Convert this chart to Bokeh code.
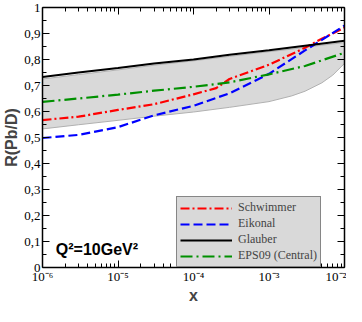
from bokeh.plotting import figure
from bokeh.models import (LinearAxis, LogAxis, FixedTicker, Range1d, Legend, LegendItem)
from bokeh.core.properties import value
from bokeh.embed import file_html
from bokeh.resources import INLINE

# ---- data ----
x_grid = [1e-6, 3e-6, 1e-5, 3e-5, 1e-4, 3e-4, 1e-3, 3e-3, 1e-2]
glauber = [0.733, 0.750, 0.767, 0.785, 0.800, 0.818, 0.836, 0.853, 0.872]
band_x = [1e-6, 3e-6, 1e-5, 3e-5, 1e-4, 3e-4, 1e-3, 2e-3, 3e-3, 5e-3, 7e-3, 1e-2]
band_hi = [0.725, 0.742, 0.760, 0.778, 0.795, 0.812, 0.830, 0.840, 0.847, 0.855, 0.860, 0.865]
band_lo = [0.533, 0.549, 0.566, 0.582, 0.598, 0.616, 0.638, 0.660, 0.678, 0.710, 0.740, 0.785]
eps09 = [0.637, 0.650, 0.665, 0.680, 0.695, 0.712, 0.743, 0.775, 0.826]
schw_x = [1e-6, 3e-6, 1e-5, 3e-5, 1e-4, 2e-4, 3e-4, 1e-3, 3e-3, 5e-3, 1e-2]
schwimmer = [0.567, 0.580, 0.606, 0.628, 0.666, 0.690, 0.725, 0.780, 0.845, 0.880, 0.922]
eikonal = [0.498, 0.510, 0.540, 0.585, 0.622, 0.670, 0.745, 0.835, 0.930]

y_ticks = [0.0, 0.1, 0.2, 0.3, 0.4, 0.5, 0.6, 0.7, 0.8, 0.9, 1.0]
y_labels = ["0", "0,1", "0,2", "0,3", "0,4", "0,5", "0,6", "0,7", "0,8", "0,9", "1"]
x_ticks = [1e-6, 1e-5, 1e-4, 1e-3, 1e-2]
x_labels = ["10\u207b\u2076", "10\u207b\u2075", "10\u207b\u2074", "10\u207b\u00b3", "10\u207b\u00b2"]

SERIF = "Liberation Serif"
SANS = "Liberation Sans"

p = figure(width=346, height=306, x_axis_type="log", output_backend="svg",
           toolbar_location=None, x_range=Range1d(1e-6, 1e-2), y_range=Range1d(0, 1),
           x_axis_location=None, y_axis_location=None)
p.min_border_top = 7
p.min_border_right = 2
p.min_border_left = 0
p.min_border_bottom = 0
p.xgrid.visible = False
p.ygrid.visible = False
p.outline_line_color = None
p.background_fill_color = "white"

x_minor = [m * 10.0 ** e for e in range(-6, -2) for m in range(2, 10)]
y_minor = [round(0.05 + 0.1 * i, 2) for i in range(10)]
xt = FixedTicker(ticks=x_ticks, minor_ticks=x_minor)
yt = FixedTicker(ticks=y_ticks, minor_ticks=y_minor)


def style(ax, labels=True):
    ax.axis_line_color = "black"
    ax.axis_line_width = 1.5
    ax.major_tick_in = 7
    ax.major_tick_out = 0
    ax.minor_tick_in = 4
    ax.minor_tick_out = 0
    ax.major_tick_line_color = "black"
    ax.minor_tick_line_color = "black"
    ax.major_tick_line_width = 1
    ax.minor_tick_line_width = 1
    ax.major_label_text_font = SERIF
    ax.major_label_text_font_size = "13px"
    ax.major_label_text_color = "black"
    ax.major_label_standoff = 2
    if not labels:
        ax.major_label_text_font_size = "1px"
        ax.major_label_text_alpha = 0
        ax.major_label_standoff = 0


bottom = LogAxis(ticker=xt, axis_label="x")
style(bottom)
bottom.major_label_overrides = {t: l for t, l in zip(x_ticks, x_labels)}
bottom.major_label_standoff = 1
bottom.axis_label_text_font = SANS
bottom.axis_label_text_font_style = "bold"
bottom.axis_label_text_font_size = "16px"
bottom.axis_label_standoff = 0
p.add_layout(bottom, "below")

left = LinearAxis(ticker=yt, axis_label="R(Pb/D)")
style(left)
left.major_label_overrides = {t: l for t, l in zip(y_ticks, y_labels)}
left.axis_label_text_font = SANS
left.axis_label_text_font_style = "bold"
left.axis_label_text_font_size = "16px"
left.axis_label_standoff = 1
p.add_layout(left, "left")

top = LogAxis(ticker=xt)
style(top, labels=False)
p.add_layout(top, "above")

right = LinearAxis(ticker=yt)
style(right, labels=False)
p.add_layout(right, "right")

# band
p.varea(x=band_x, y1=band_lo, y2=band_hi, fill_color="#d9d9d9")
p.line(band_x, band_lo, line_color="#b0b0b0", line_width=1)
p.line(band_x, band_hi, line_color="#b0b0b0", line_width=1)

r_s = p.line(schw_x, schwimmer, line_color="#ff0000", line_width=2.2, line_dash="9 3 2 3")
r_e = p.line(x_grid, eikonal, line_color="#0000ff", line_width=2.2, line_dash="9 4")
r_g = p.line(x_grid, glauber, line_color="black", line_width=2)
r_p = p.line(x_grid, eps09, line_color="#009000", line_width=2.2, line_dash="12 4 2 4")

p.text(x=[1.5e-6], y=[0.07], text=["Q\u00b2=10GeV\u00b2"], text_font=value(SANS),
       text_font_style="bold", text_font_size="16px", text_baseline="alphabetic",
       text_align="left", text_color="black")

legend = Legend(items=[LegendItem(label="Schwimmer", renderers=[r_s]),
                       LegendItem(label="Eikonal", renderers=[r_e]),
                       LegendItem(label="Glauber", renderers=[r_g]),
                       LegendItem(label="EPS09 (Central)", renderers=[r_p])],
                location=(134, 0))
legend.background_fill_color = "#d9d9d9"
legend.background_fill_alpha = 1
legend.border_line_color = "#333333"
legend.border_line_width = 1
legend.label_text_font = SERIF
legend.label_text_font_size = "12px"
legend.label_height = 10
legend.glyph_height = 10
legend.glyph_width = 52
legend.spacing = 1
legend.padding = 3
legend.margin = 0
legend.label_standoff = 6
p.add_layout(legend, "center")

open("out.html", "w").write(file_html(p, INLINE))
